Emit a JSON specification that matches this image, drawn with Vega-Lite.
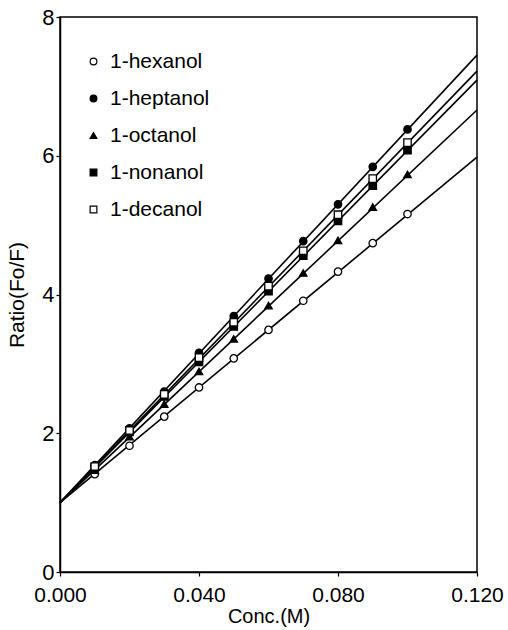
{
  "$schema": "https://vega.github.io/schema/vega-lite/v6.json",
  "width": 417,
  "height": 555,
  "autosize": "none",
  "padding": {"left": 60, "top": 17, "right": 31, "bottom": 58},
  "config": {
    "font": "Liberation Sans",
    "view": {"stroke": "black", "strokeWidth": 1.5},
    "axis": {
      "grid": false,
      "domainColor": "black",
      "domainWidth": 1.5,
      "tickColor": "black",
      "tickWidth": 1.2,
      "tickSize": 4,
      "labelColor": "black",
      "titleColor": "black",
      "labelFont": "Liberation Sans",
      "titleFont": "Liberation Sans",
      "titleFontWeight": "normal",
      "labelFontSize": 21,
      "titleFontSize": 21
    }
  },
  "datasets": {
    "lines": [
      {"series": "1-hexanol", "conc": 0, "ratio": 1},
      {"series": "1-hexanol", "conc": 0.12, "ratio": 5.98},
      {"series": "1-heptanol", "conc": 0, "ratio": 1},
      {"series": "1-heptanol", "conc": 0.12, "ratio": 7.45},
      {"series": "1-octanol", "conc": 0, "ratio": 1},
      {"series": "1-octanol", "conc": 0.12, "ratio": 6.66},
      {"series": "1-nonanol", "conc": 0, "ratio": 1},
      {"series": "1-nonanol", "conc": 0.12, "ratio": 7.09},
      {"series": "1-decanol", "conc": 0, "ratio": 1},
      {"series": "1-decanol", "conc": 0.12, "ratio": 7.22}
    ],
    "points": [
      {"series": "1-hexanol", "conc": 0.01, "ratio": 1.41},
      {"series": "1-hexanol", "conc": 0.02, "ratio": 1.82},
      {"series": "1-hexanol", "conc": 0.03, "ratio": 2.24},
      {"series": "1-hexanol", "conc": 0.04, "ratio": 2.66},
      {"series": "1-hexanol", "conc": 0.05, "ratio": 3.08},
      {"series": "1-hexanol", "conc": 0.06, "ratio": 3.49},
      {"series": "1-hexanol", "conc": 0.07, "ratio": 3.91},
      {"series": "1-hexanol", "conc": 0.08, "ratio": 4.33},
      {"series": "1-hexanol", "conc": 0.09, "ratio": 4.74},
      {"series": "1-hexanol", "conc": 0.10, "ratio": 5.16},
      {"series": "1-heptanol", "conc": 0.01, "ratio": 1.54},
      {"series": "1-heptanol", "conc": 0.02, "ratio": 2.07},
      {"series": "1-heptanol", "conc": 0.03, "ratio": 2.60},
      {"series": "1-heptanol", "conc": 0.04, "ratio": 3.16},
      {"series": "1-heptanol", "conc": 0.05, "ratio": 3.69},
      {"series": "1-heptanol", "conc": 0.06, "ratio": 4.23},
      {"series": "1-heptanol", "conc": 0.07, "ratio": 4.77},
      {"series": "1-heptanol", "conc": 0.08, "ratio": 5.30},
      {"series": "1-heptanol", "conc": 0.09, "ratio": 5.84},
      {"series": "1-heptanol", "conc": 0.10, "ratio": 6.38},
      {"series": "1-octanol", "conc": 0.01, "ratio": 1.47},
      {"series": "1-octanol", "conc": 0.02, "ratio": 1.95},
      {"series": "1-octanol", "conc": 0.03, "ratio": 2.42},
      {"series": "1-octanol", "conc": 0.04, "ratio": 2.89},
      {"series": "1-octanol", "conc": 0.05, "ratio": 3.36},
      {"series": "1-octanol", "conc": 0.06, "ratio": 3.84},
      {"series": "1-octanol", "conc": 0.07, "ratio": 4.31},
      {"series": "1-octanol", "conc": 0.08, "ratio": 4.78},
      {"series": "1-octanol", "conc": 0.09, "ratio": 5.26},
      {"series": "1-octanol", "conc": 0.10, "ratio": 5.73},
      {"series": "1-nonanol", "conc": 0.01, "ratio": 1.51},
      {"series": "1-nonanol", "conc": 0.02, "ratio": 2.02},
      {"series": "1-nonanol", "conc": 0.03, "ratio": 2.53},
      {"series": "1-nonanol", "conc": 0.04, "ratio": 3.03},
      {"series": "1-nonanol", "conc": 0.05, "ratio": 3.54},
      {"series": "1-nonanol", "conc": 0.06, "ratio": 4.05},
      {"series": "1-nonanol", "conc": 0.07, "ratio": 4.56},
      {"series": "1-nonanol", "conc": 0.08, "ratio": 5.06},
      {"series": "1-nonanol", "conc": 0.09, "ratio": 5.57},
      {"series": "1-nonanol", "conc": 0.10, "ratio": 6.08},
      {"series": "1-decanol", "conc": 0.01, "ratio": 1.52},
      {"series": "1-decanol", "conc": 0.02, "ratio": 2.04},
      {"series": "1-decanol", "conc": 0.03, "ratio": 2.56},
      {"series": "1-decanol", "conc": 0.04, "ratio": 3.09},
      {"series": "1-decanol", "conc": 0.05, "ratio": 3.60},
      {"series": "1-decanol", "conc": 0.06, "ratio": 4.12},
      {"series": "1-decanol", "conc": 0.07, "ratio": 4.63},
      {"series": "1-decanol", "conc": 0.08, "ratio": 5.15},
      {"series": "1-decanol", "conc": 0.09, "ratio": 5.67},
      {"series": "1-decanol", "conc": 0.10, "ratio": 6.19}
    ]
  },
  "encoding": {
    "x": {
      "field": "conc",
      "type": "quantitative",
      "scale": {"domain": [0, 0.12], "nice": false, "zero": false},
      "axis": {
        "title": "Conc.(M)",
        "values": [0, 0.04, 0.08, 0.12],
        "format": ".3f",
        "labelPadding": 8,
        "titlePadding": 1,
        "titleFontSize": 20,
        "labelFlush": false
      }
    },
    "y": {
      "field": "ratio",
      "type": "quantitative",
      "scale": {"domain": [0, 8], "nice": false},
      "axis": {
        "title": "Ratio(Fo/F)",
        "values": [0, 2, 4, 6, 8],
        "format": "d",
        "labelPadding": 2,
        "titlePadding": 14,
        "labelFontSize": 22
      }
    }
  },
  "layer": [
    {
      "data": {"name": "lines"},
      "mark": {"type": "line", "color": "black", "strokeWidth": 1.6},
      "encoding": {"detail": {"field": "series", "type": "nominal"}}
    },
    {
      "data": {"name": "points"},
      "mark": {"type": "point", "filled": false, "stroke": "black", "strokeWidth": 1.3, "size": 55, "opacity": 1},
      "encoding": {
        "shape": {
          "field": "series",
          "type": "nominal",
          "scale": {
            "domain": ["1-hexanol", "1-heptanol", "1-octanol", "1-nonanol", "1-decanol"],
            "range": ["circle", "circle", "triangle-up", "square", "square"]
          },
          "legend": {
            "title": null,
            "orient": "none",
            "legendX": 23,
            "legendY": 34,
            "labelFontSize": 21,
            "labelFont": "Liberation Sans",
            "labelColor": "black",
            "symbolSize": 45,
            "symbolStrokeColor": "black",
            "symbolStrokeWidth": 1.2,
            "labelOffset": 6,
            "rowPadding": 15,
            "symbolOpacity": 1,
            "encode": {"symbols": {"update": {"stroke": {"value": "black"}, "strokeWidth": {"value": 1.2}}}}
          }
        },
        "fill": {
          "field": "series",
          "type": "nominal",
          "scale": {
            "domain": ["1-hexanol", "1-heptanol", "1-octanol", "1-nonanol", "1-decanol"],
            "range": ["white", "black", "black", "black", "white"]
          },
          "legend": {
            "title": null,
            "orient": "none",
            "legendX": 23,
            "legendY": 34,
            "labelFontSize": 21,
            "labelFont": "Liberation Sans",
            "labelColor": "black",
            "symbolSize": 45,
            "symbolStrokeColor": "black",
            "symbolStrokeWidth": 1.2,
            "labelOffset": 6,
            "rowPadding": 15,
            "symbolOpacity": 1,
            "encode": {"symbols": {"update": {"stroke": {"value": "black"}, "strokeWidth": {"value": 1.2}}}}
          }
        }
      }
    }
  ]
}
